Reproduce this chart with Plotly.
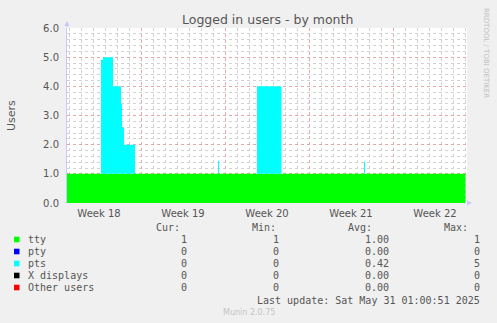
import plotly.graph_objects as go

# ---------------- data ----------------
times = ["2025-04-27 20:00", "2025-04-30 16:00", "2025-04-30 20:00", "2025-05-01 16:00",
         "2025-05-02 08:00", "2025-05-02 10:00", "2025-05-02 14:00", "2025-05-03 12:00",
         "2025-05-10 10:00", "2025-05-10 12:00", "2025-05-13 16:00", "2025-05-15 17:00",
         "2025-05-22 14:00", "2025-05-22 16:00", "2025-05-31 01:00"]
tty = [1, 1, 1, 1, 1, 1, 1, 1, 1, 1, 1, 1, 1, 1, 1]
pty = [0, 0, 0, 0, 0, 0, 0, 0, 0, 0, 0, 0, 0, 0, 0]
pts = [0, 3.9, 4, 3, 2.4, 1.6, 1, 0, 0.45, 0, 3, 0, 0.42, 0, 0]
xdisp = [0, 0, 0, 0, 0, 0, 0, 0, 0, 0, 0, 0, 0, 0, 0]
other = [0, 0, 0, 0, 0, 0, 0, 0, 0, 0, 0, 0, 0, 0, 0]

week_label_pos = ["2025-04-30 12:00", "2025-05-07 12:00", "2025-05-14 12:00",
                  "2025-05-21 12:00", "2025-05-28 12:00"]
week_labels = ["Week 18", "Week 19", "Week 20", "Week 21", "Week 22"]
first_week_start = "2025-05-04"
first_day_start = "2025-04-27"
x_range = ["2025-04-27 20:00", "2025-05-31 04:00"]

series_names = ["tty", "pty", "pts", "X displays", "Other users"]
series_colors = ["#00FF00", "#0000FF", "#00FFFF", "#000000", "#FF0000"]
series_values = [tty, pty, pts, xdisp, other]
cur_vals = ["1", "0", "0", "0", "0"]
min_vals = ["1", "0", "0", "0", "0"]
avg_vals = ["1.00", "0.00", "0.42", "0.00", "0.00"]
max_vals = ["1", "0", "5", "0", "0"]

title = "Logged in users - by month"
y_title = "Users"
last_update = "Last update: Sat May 31 01:00:51 2025"
footer = "Munin 2.0.75"
watermark = "RRDTOOL / TOBI OETIKER"

# ---------------- layout geometry ----------------
W, H = 497, 323
L, R, T, B = 67, 467, 28, 203
PW, PH = R - L, B - T
DAY_MS = 86400000


def px(x):
    return (x - L) / PW


def py(y):
    return (B - y) / PH


TXT = "#555555"
MONO = "DejaVu Sans Mono"
SANS = "DejaVu Sans"
MINOR_GRID = "#D2D2D2"
MAJOR_GRID = "#E8A8A8"

fig = go.Figure()
for name, col, vals in zip(series_names, series_colors, series_values):
    fig.add_trace(go.Scatter(
        x=times, y=vals, name=name, stackgroup="users", mode="lines",
        line=dict(width=0, shape="hv", color=col), fillcolor=col,
        showlegend=False, hoverinfo="skip"))

# invisible trace carrying the week-label axis
fig.add_trace(go.Scatter(x=x_range, y=[0, 0], xaxis="x2", mode="lines",
                         line=dict(width=0), showlegend=False, hoverinfo="skip"))

annotations = [
    dict(text=title, x=0.5, xref="paper", xanchor="center", y=py(19), yref="paper",
         yanchor="middle", showarrow=False, font=dict(family=SANS, size=12.5, color=TXT)),
    dict(text=y_title, x=px(11), xref="paper", xanchor="center", y=py(115), yref="paper",
         yanchor="middle", textangle=-90, showarrow=False,
         font=dict(family=SANS, size=11, color=TXT)),
    dict(text=watermark, x=px(486), xref="paper", xanchor="center", y=py(53), yref="paper",
         yanchor="middle", textangle=90, showarrow=False,
         font=dict(family=SANS, size=7, color="#C0C0C0")),
    dict(text="", x=px(472), y=0, xref="paper", yref="paper", ax=-6, ay=0,
         showarrow=True, arrowhead=2, arrowsize=1, arrowwidth=1, arrowcolor="#C8C8FF"),
    dict(text="", x=0, y=py(21), xref="paper", yref="paper", ax=0, ay=8,
         showarrow=True, arrowhead=2, arrowsize=1, arrowwidth=1, arrowcolor="#C8C8FF"),
]

mono = dict(family=MONO, size=10, color=TXT)
for hdr, xr in zip(["Cur:", "Min:", "Avg:", "Max:"], [182, 278, 374, 470]):
    annotations.append(dict(text=hdr, x=px(xr), xref="paper", xanchor="right",
                            y=py(227.3), yref="paper", yanchor="middle",
                            showarrow=False, font=mono))

shapes = []
for i, name in enumerate(series_names):
    yc = 239.5 + 12 * i
    shapes.append(dict(type="rect", xref="paper", yref="paper",
                       x0=px(14), x1=px(19.5), y0=py(yc - 2.8), y1=py(yc + 2.8),
                       fillcolor=series_colors[i], line=dict(width=0)))
    annotations.append(dict(text=name, x=px(26), xref="paper", xanchor="left",
                            y=py(yc), yref="paper", yanchor="middle",
                            showarrow=False, font=mono))
    for val, xr in zip([cur_vals[i], min_vals[i], avg_vals[i], max_vals[i]],
                       [189, 281, 391, 482]):
        annotations.append(dict(text=val, x=px(xr), xref="paper", xanchor="right",
                                y=py(yc), yref="paper", yanchor="middle",
                                showarrow=False, font=mono))

annotations.append(dict(text=last_update, x=px(482), xref="paper", xanchor="right",
                        y=py(300), yref="paper", yanchor="middle", showarrow=False,
                        font=mono))
annotations.append(dict(text=footer, x=px(248.5), xref="paper", xanchor="center",
                        y=py(312), yref="paper", yanchor="middle", showarrow=False,
                        font=dict(family=SANS, size=8, color="#C4C4C4")))

fig.update_layout(
    width=W, height=H,
    margin=dict(l=L, r=W - R, t=T, b=H - B, pad=0),
    paper_bgcolor="#F0F0F0", plot_bgcolor="#FFFFFF",
    showlegend=False,
    # weekly major grid + daily minor grid (labels hidden)
    xaxis=dict(
        type="date", range=x_range, tickmode="linear", tick0=first_week_start,
        dtick=7 * DAY_MS, showgrid=True, gridcolor=MAJOR_GRID, griddash="dot",
        zeroline=False, showline=False,
        tickfont=dict(family=SANS, size=10, color="rgba(0,0,0,0)"),
        minor=dict(showgrid=True, gridcolor=MINOR_GRID, griddash="dot",
                   dtick=DAY_MS, tick0=first_day_start),
    ),
    # week labels
    xaxis2=dict(
        type="date", overlaying="x", anchor="y", range=x_range,
        tickmode="array", tickvals=week_label_pos, ticktext=week_labels,
        showgrid=False, zeroline=False, showline=False, ticklabelstandoff=3,
        tickfont=dict(family=SANS, size=10, color=TXT),
    ),
    yaxis=dict(
        range=[0, 6], tickmode="linear", tick0=0, dtick=1, tickformat=".1f",
        showgrid=True, gridcolor=MAJOR_GRID, griddash="dot", gridwidth=1,
        zeroline=False, showline=True, linecolor="#C8C8FF", linewidth=1,
        ticklabelstandoff=5,
        tickfont=dict(family=SANS, size=10, color=TXT),
        minor=dict(dtick=0.2, showgrid=True, gridcolor=MINOR_GRID,
                   griddash="dot", gridwidth=1),
        fixedrange=True,
    ),
    annotations=annotations,
    shapes=shapes,
)

fig.write_html("out.html")
